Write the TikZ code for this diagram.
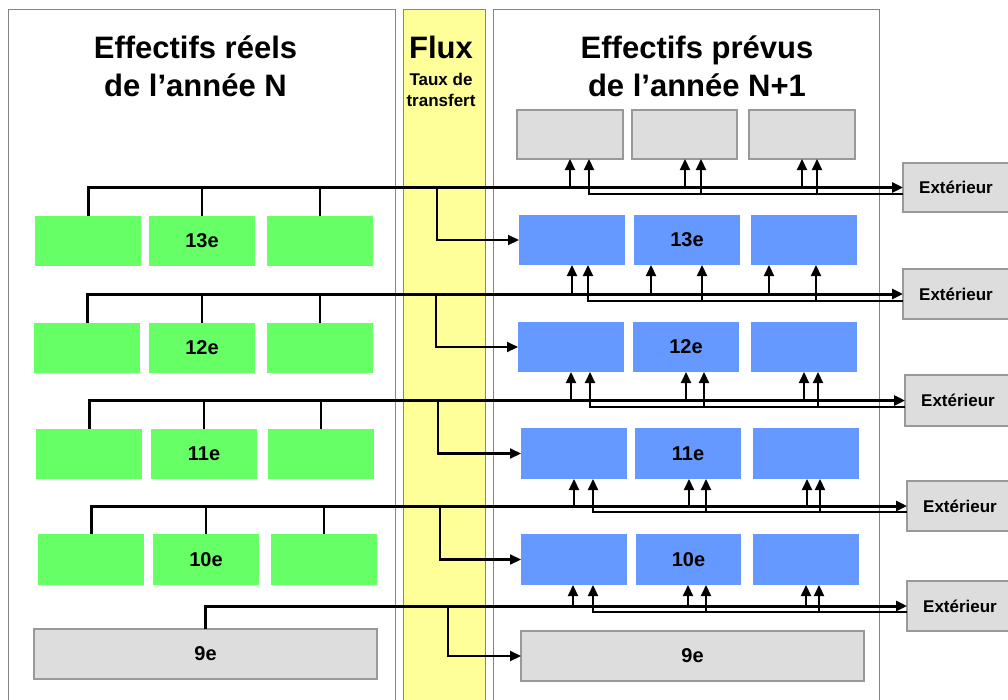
\documentclass[tikz,border=0pt]{standalone}
\usepackage{fontspec}
\setmainfont{Liberation Sans}
\usetikzlibrary{arrows.meta}
\definecolor{gbox}{HTML}{66FF66}
\definecolor{bbox}{HTML}{6699FF}
\definecolor{lgray}{HTML}{DDDDDD}
\definecolor{bgray}{HTML}{999999}
\definecolor{pgray}{HTML}{858585}
\definecolor{yel}{HTML}{FFFF99}
\begin{document}
\begin{tikzpicture}[x=1pt,y=-1pt,
  panel/.style={draw=pgray,line width=1pt},
  cell/.style={inner sep=0pt,outer sep=0pt,minimum width=106pt,minimum height=50pt,
    font=\bfseries\fontsize{20}{24}\selectfont},
  green/.style={cell,fill=gbox},
  blue/.style={cell,fill=bbox},
  grey/.style={cell,fill=lgray,draw=bgray,line width=1.2pt},
  ext/.style={grey,font=\bfseries\fontsize{17}{20}\selectfont},
  title/.style={align=center,font=\bfseries\fontsize{31}{38}\selectfont},
  main/.style={line width=3pt},
  thin/.style={line width=2.1pt},
  arr/.style={-{Triangle[length=11pt,width=10pt]}}
]
\useasboundingbox (0,0) rectangle (1008,699);
\clip (0,0) rectangle (1008,699);
\fill[white] (0,0) rectangle (1008,699);
% panels
\draw[panel] (8,9) rectangle (395.5,720);
\draw[panel,fill=yel] (403,9) rectangle (485,720);
\draw[panel] (493,9) rectangle (879,720);
% titles
\node[title] (tl) at (195.5,66) {Effectifs réels\\de l’année N};
\node[title] (tf) at (441,47) {Flux};
\node[align=center,font=\bfseries\fontsize{17}{21}\selectfont] (tf2) at (441,90) {Taux de\\transfert};
\node[title] (tr) at (697,66) {Effectifs prévus\\de l’année N+1};
% left boxes
\node[green] (l13a) at (88,241) {};
\node[green] (l13b) at (202,241) {13e};
\node[green] (l13c) at (320,241) {};
\node[green] (l12a) at (87,348) {};
\node[green] (l12b) at (202,348) {12e};
\node[green] (l12c) at (320,348) {};
\node[green] (l11a) at (89,454) {};
\node[green] (l11b) at (204,454) {11e};
\node[green] (l11c) at (321,454) {};
\node[green,minimum height=51pt] (l10a) at (91,559.5) {};
\node[green,minimum height=51pt] (l10b) at (206,559.5) {10e};
\node[green,minimum height=51pt] (l10c) at (324,559.5) {};
\node[grey,minimum width=343pt] (l9) at (205.5,654) {9e};
% right boxes
\node[grey,minimum height=49pt] (t1a) at (570,134.5) {};
\node[grey,minimum height=49pt,minimum width=105pt] (t1b) at (684.5,134.5) {};
\node[grey,minimum height=49pt] (t1c) at (802,134.5) {};
\node[blue] (r13a) at (572,240) {};
\node[blue] (r13b) at (687,240) {13e};
\node[blue] (r13c) at (804,240) {};
\node[blue] (r12a) at (571,347) {};
\node[blue] (r12b) at (686,347) {12e};
\node[blue] (r12c) at (804,347) {};
\node[blue,minimum height=51pt] (r11a) at (574,453.5) {};
\node[blue,minimum height=51pt] (r11b) at (688,453.5) {11e};
\node[blue,minimum height=51pt] (r11c) at (806,453.5) {};
\node[blue,minimum height=51pt] (r10a) at (574,559.5) {};
\node[blue,minimum height=51pt,minimum width=105pt] (r10b) at (688.5,559.5) {10e};
\node[blue,minimum height=51pt] (r10c) at (806,559.5) {};
\node[grey,minimum width=343pt] (r9) at (692.5,656) {9e};
% exterieur
\node[ext,minimum height=49pt] (E1) at (956,187.5) {Extérieur};
\node[ext] (E2) at (956,294) {Extérieur};
\node[ext,minimum height=51pt] (E3) at (958,400.5) {Extérieur};
\node[ext] (E4) at (960,506) {Extérieur};
\node[ext] (E5) at (960,606) {Extérieur};
% group 1 : 13e
\draw[thin] (l13b.north) -- (l13b.north |- E1.west);
\draw[thin] (l13c.north) -- (l13c.north |- E1.west);
\draw[thin,arr] (437,0 |- E1.west) |- (r13a.west);
\draw[thin,arr] (E1.west |- 0,194) -| (589,0 |- t1a.south);
\draw[thin,arr] (701,194) -- (701,0 |- t1b.south);
\draw[thin,arr] (817,194) -- (817,0 |- t1c.south);
\draw[thin,arr] (570,0 |- E1.west) -- (570,0 |- t1a.south);
\draw[thin,arr] (685,0 |- E1.west) -- (685,0 |- t1b.south);
\draw[thin,arr] (802,0 |- E1.west) -- (802,0 |- t1c.south);
\draw[main,arr] (l13a.north) |- (E1.west);
% group 2 : 12e
\draw[thin] (l12b.north) -- (l12b.north |- E2.west);
\draw[thin] (l12c.north) -- (l12c.north |- E2.west);
\draw[thin,arr] (436,0 |- E2.west) |- (r12a.west);
\draw[thin,arr] (E2.west |- 0,301) -| (588,0 |- r13a.south);
\draw[thin,arr] (702,301) -- (702,0 |- r13b.south);
\draw[thin,arr] (816,301) -- (816,0 |- r13c.south);
\draw[thin,arr] (572,0 |- E2.west) -- (572,0 |- r13a.south);
\draw[thin,arr] (651,0 |- E2.west) -- (651,0 |- r13b.south);
\draw[thin,arr] (769,0 |- E2.west) -- (769,0 |- r13c.south);
\draw[main,arr] (l12a.north) |- (E2.west);
% group 3 : 11e
\draw[thin] (l11b.north) -- (l11b.north |- E3.west);
\draw[thin] (l11c.north) -- (l11c.north |- E3.west);
\draw[thin,arr] (438,0 |- E3.west) |- (r11a.west);
\draw[thin,arr] (E3.west |- 0,407) -| (590,0 |- r12a.south);
\draw[thin,arr] (704,407) -- (704,0 |- r12b.south);
\draw[thin,arr] (818,407) -- (818,0 |- r12c.south);
\draw[thin,arr] (571,0 |- E3.west) -- (571,0 |- r12a.south);
\draw[thin,arr] (686,0 |- E3.west) -- (686,0 |- r12b.south);
\draw[thin,arr] (804,0 |- E3.west) -- (804,0 |- r12c.south);
\draw[main,arr] (l11a.north) |- (E3.west);
% group 4 : 10e
\draw[thin] (l10b.north) -- (l10b.north |- E4.west);
\draw[thin] (l10c.north) -- (l10c.north |- E4.west);
\draw[thin,arr] (440,0 |- E4.west) |- (r10a.west);
\draw[thin,arr] (E4.west |- 0,512) -| (593,0 |- r11a.south);
\draw[thin,arr] (706,512) -- (706,0 |- r11b.south);
\draw[thin,arr] (820,512) -- (820,0 |- r11c.south);
\draw[thin,arr] (574,0 |- E4.west) -- (574,0 |- r11a.south);
\draw[thin,arr] (689,0 |- E4.west) -- (689,0 |- r11b.south);
\draw[thin,arr] (807,0 |- E4.west) -- (807,0 |- r11c.south);
\draw[main,arr] (l10a.north) |- (E4.west);
% group 5 : 9e
\draw[thin,arr] (448,0 |- E5.west) |- (r9.west);
\draw[thin,arr] (E5.west |- 0,612) -| (593,0 |- r10a.south);
\draw[thin,arr] (706,612) -- (706,0 |- r10b.south);
\draw[thin,arr] (819,612) -- (819,0 |- r10c.south);
\draw[thin,arr] (573,0 |- E5.west) -- (573,0 |- r10a.south);
\draw[thin,arr] (688,0 |- E5.west) -- (688,0 |- r10b.south);
\draw[thin,arr] (806,0 |- E5.west) -- (806,0 |- r10c.south);
\draw[main,arr] (l9.north) |- (E5.west);
\end{tikzpicture}
\end{document}
